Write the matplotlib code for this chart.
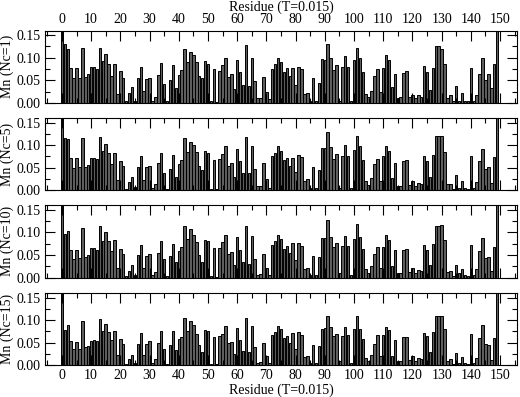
import numpy as np
import matplotlib
matplotlib.use("Agg")
import matplotlib.pyplot as plt
from matplotlib.ticker import MultipleLocator, FormatStrFormatter

plt.rcParams['font.family'] = ['Liberation Serif', 'DejaVu Serif']
plt.rcParams['font.size'] = 10

# residue index 0..149
residues = list(range(150))

# Mn values per residue (tall end bars go off the top of the axis)
mn_nc1 = [0.30,
    0.13, 0.12, 0.078, 0.055, 0.078, 0.055, 0.122, 0.058, 0.063, 0.08,
    0.08, 0.075, 0.122, 0.092, 0.108, 0.087, 0.06, 0.085, 0.02, 0.07,
    0.055, 0.003, 0.022, 0.035, 0.003, 0.055, 0.08, 0.027, 0.053, 0.055,
    0.005, 0.013, 0.062, 0.088, 0.042, 0.005, 0.05, 0.083, 0.033, 0.062,
    0.072, 0.12, 0.09, 0.113, 0.105, 0.09, 0.06, 0.055, 0.093, 0.085,
    0.003, 0.075, 0.002, 0.07, 0.083, 0.1, 0.058, 0.063, 0.03, 0.095,
    0.068, 0.04, 0.128, 0.038, 0.1, 0.048, 0.01, 0.01, 0.058, 0.025,
    0.008, 0.075, 0.085, 0.1, 0.09, 0.068, 0.078, 0.06, 0.078, 0.04,
    0.08, 0.076, 0.02, 0.022, 0.005, 0.055, 0.005, 0.045, 0.096, 0.095,
    0.13, 0.1, 0.072, 0.083, 0.005, 0.08, 0.103, 0.08, 0.005, 0.095,
    0.122, 0.1, 0.068, 0.02, 0.013, 0.027, 0.06, 0.075, 0.025, 0.078,
    0.105, 0.095, 0.035, 0.063, 0.01, 0.012, 0.067, 0.07, 0.013, 0.018,
    0.01, 0.017, 0.013, 0.082, 0.068, 0.028, 0.078, 0.125, 0.126, 0.12,
    0.085, 0.01, 0.017, 0.003, 0.037, 0.005, 0.022, 0.005, 0.003, 0.077,
    0.005, 0.018, 0.063, 0.1, 0.05, 0.063, 0.033, 0.087, 0.30]

mn_nc5 = [0.30,
    0.115, 0.113, 0.072, 0.05, 0.072, 0.052, 0.115, 0.052, 0.057, 0.072,
    0.072, 0.07, 0.118, 0.088, 0.103, 0.082, 0.058, 0.082, 0.023, 0.065,
    0.053, 0.003, 0.018, 0.03, 0.008, 0.052, 0.075, 0.023, 0.052, 0.055,
    0.005, 0.015, 0.06, 0.083, 0.038, 0.003, 0.047, 0.078, 0.03, 0.058,
    0.068, 0.117, 0.085, 0.108, 0.1, 0.085, 0.055, 0.045, 0.087, 0.083,
    0.003, 0.068, 0.002, 0.07, 0.08, 0.098, 0.055, 0.06, 0.03, 0.092,
    0.065, 0.038, 0.118, 0.038, 0.098, 0.048, 0.01, 0.01, 0.06, 0.025,
    0.005, 0.075, 0.082, 0.098, 0.087, 0.067, 0.072, 0.055, 0.072, 0.04,
    0.078, 0.073, 0.02, 0.025, 0.005, 0.052, 0.005, 0.045, 0.093, 0.093,
    0.13, 0.095, 0.07, 0.08, 0.005, 0.077, 0.1, 0.077, 0.005, 0.09,
    0.12, 0.098, 0.068, 0.02, 0.012, 0.028, 0.058, 0.07, 0.02, 0.075,
    0.098, 0.088, 0.028, 0.06, 0.01, 0.01, 0.066, 0.067, 0.012, 0.02,
    0.01, 0.017, 0.015, 0.077, 0.065, 0.03, 0.078, 0.12, 0.12, 0.12,
    0.085, 0.013, 0.015, 0.003, 0.035, 0.005, 0.02, 0.005, 0.003, 0.077,
    0.005, 0.018, 0.065, 0.092, 0.047, 0.052, 0.017, 0.073, 0.30]

mn_nc10 = [0.30,
    0.097, 0.102, 0.062, 0.042, 0.062, 0.043, 0.11, 0.045, 0.05, 0.065,
    0.065, 0.062, 0.113, 0.08, 0.1, 0.08, 0.058, 0.083, 0.022, 0.063,
    0.052, 0.003, 0.015, 0.027, 0.005, 0.05, 0.073, 0.022, 0.048, 0.053,
    0.005, 0.013, 0.055, 0.08, 0.04, 0.003, 0.047, 0.075, 0.035, 0.058,
    0.067, 0.115, 0.085, 0.107, 0.095, 0.078, 0.05, 0.035, 0.083, 0.08,
    0.003, 0.065, 0.002, 0.065, 0.078, 0.095, 0.052, 0.057, 0.028, 0.09,
    0.062, 0.035, 0.113, 0.03, 0.092, 0.042, 0.005, 0.008, 0.052, 0.022,
    0.005, 0.073, 0.08, 0.095, 0.085, 0.063, 0.07, 0.055, 0.077, 0.038,
    0.077, 0.07, 0.018, 0.02, 0.005, 0.048, 0.005, 0.045, 0.087, 0.088,
    0.128, 0.09, 0.068, 0.076, 0.01, 0.07, 0.093, 0.07, 0.005, 0.085,
    0.118, 0.09, 0.063, 0.018, 0.01, 0.025, 0.052, 0.068, 0.02, 0.068,
    0.095, 0.083, 0.025, 0.06, 0.01, 0.01, 0.06, 0.063, 0.013, 0.02,
    0.01, 0.017, 0.015, 0.073, 0.06, 0.028, 0.075, 0.115, 0.115, 0.117,
    0.083, 0.012, 0.015, 0.003, 0.027, 0.01, 0.018, 0.005, 0.003, 0.072,
    0.005, 0.018, 0.058, 0.088, 0.043, 0.045, 0.015, 0.067, 0.30]

mn_nc15 = [0.30,
    0.078, 0.09, 0.053, 0.037, 0.052, 0.037, 0.097, 0.04, 0.043, 0.053,
    0.055, 0.053, 0.103, 0.075, 0.092, 0.073, 0.055, 0.076, 0.022, 0.058,
    0.048, 0.003, 0.013, 0.023, 0.005, 0.048, 0.072, 0.022, 0.048, 0.053,
    0.005, 0.013, 0.05, 0.075, 0.035, 0.003, 0.045, 0.075, 0.033, 0.057,
    0.063, 0.105, 0.075, 0.098, 0.09, 0.07, 0.045, 0.03, 0.077, 0.075,
    0.003, 0.063, 0.002, 0.065, 0.07, 0.088, 0.05, 0.052, 0.025, 0.083,
    0.055, 0.032, 0.105, 0.03, 0.088, 0.04, 0.005, 0.008, 0.05, 0.02,
    0.005, 0.068, 0.073, 0.087, 0.08, 0.06, 0.065, 0.05, 0.072, 0.035,
    0.073, 0.067, 0.018, 0.02, 0.005, 0.045, 0.005, 0.043, 0.08, 0.083,
    0.11, 0.085, 0.065, 0.07, 0.01, 0.065, 0.085, 0.067, 0.005, 0.08,
    0.108, 0.08, 0.058, 0.017, 0.01, 0.023, 0.048, 0.068, 0.02, 0.067,
    0.085, 0.078, 0.02, 0.056, 0.01, 0.01, 0.062, 0.063, 0.012, 0.02,
    0.01, 0.015, 0.013, 0.072, 0.065, 0.03, 0.073, 0.11, 0.108, 0.11,
    0.08, 0.01, 0.013, 0.003, 0.028, 0.005, 0.018, 0.005, 0.003, 0.07,
    0.005, 0.017, 0.06, 0.09, 0.047, 0.045, 0.012, 0.06, 0.30]

panels = [mn_nc1, mn_nc5, mn_nc10, mn_nc15]
ylabels = ["Mn (Nc=1)", "Mn (Nc=5)", "Mn (Nc=10)", "Mn (Nc=15)"]
xlabel = "Residue (T=0.015)"

fig = plt.figure(figsize=(5.2, 3.97), dpi=100)

left, width, height = 0.0865, 0.9077, 0.182
bottoms = [0.741, 0.5205, 0.301, 0.080]

for i, (vals, lab) in enumerate(zip(panels, ylabels)):
    ax = fig.add_axes([left, bottoms[i], width, height])
    ax.bar(residues, vals, width=0.85, color='#5e5e5e', edgecolor='black', linewidth=0.7)
    ax.set_xlim(-5.8, 155.8)
    ax.set_ylim(0, 0.16)
    ax.xaxis.set_major_locator(MultipleLocator(10))
    ax.xaxis.set_minor_locator(MultipleLocator(5))
    ax.yaxis.set_major_locator(MultipleLocator(0.05))
    ax.yaxis.set_minor_locator(MultipleLocator(0.025))
    ax.yaxis.set_major_formatter(FormatStrFormatter('%.2f'))
    ax.tick_params(which='both', direction='in', top=True, right=True,
                   labelbottom=False, labeltop=False)
    ax.tick_params(which='major', length=7, width=0.8, pad=3)
    ax.tick_params(which='minor', length=3.5, width=0.8)
    ax.set_ylabel(lab, labelpad=2)
    if i == 0:
        ax.tick_params(labeltop=True)
        ax.xaxis.set_label_position('top')
        ax.set_xlabel(xlabel, labelpad=2)
    if i == len(panels) - 1:
        ax.tick_params(labelbottom=True)
        ax.set_xlabel(xlabel, labelpad=1)

fig.savefig("out.png", dpi=100)
